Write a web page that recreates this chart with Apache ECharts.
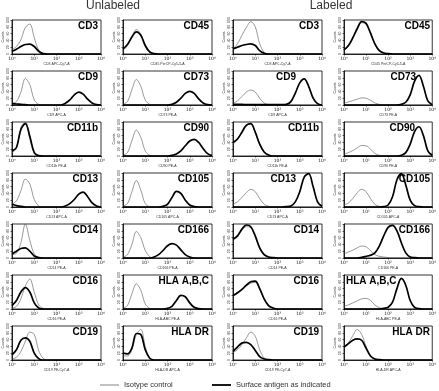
<!DOCTYPE html>
<html lang="en">
<head>
<meta charset="UTF-8">
<title>Surface markers</title>
<script src="https://cdn.jsdelivr.net/npm/echarts@6/dist/echarts.min.js"></script>
<style>
  html, body { margin: 0; padding: 0; background: #fff; }
</style>
</head>
<body>
<div id="main" style="width:439px;height:391px;"></div>
<script type="text/javascript">
// log10 of fluorescence at which each histogram value is read
var logX = [0, 0.2, 0.4, 0.6, 0.8, 1.0, 1.2, 1.4, 1.6, 1.8, 2.0, 2.2, 2.4, 2.6, 2.8, 3.0, 3.2, 3.4, 3.6, 3.8, 4.0];
var xTicks = ['10\u2070', '10\u00b9', '10\u00b2', '10\u00b3', '10\u2074'];

var leftMarkers = ['CD3', 'CD9', 'CD11b', 'CD13', 'CD14', 'CD16', 'CD19'];
var rightMarkers = ['CD45', 'CD73', 'CD90', 'CD105', 'CD166', 'HLA A,B,C', 'HLA DR'];
var leftAxisNames = ['CD3 APC-Cy7-A', 'CD9 APC-A', 'CD11b PE-A', 'CD13 APC-A', 'CD14 PE-A', 'CD16 PE-A', 'CD19 PE-Cy7-A'];
var rightAxisNames = ['CD45 PerCP-Cy5-5-A', 'CD73 PE-A', 'CD90 PE-A', 'CD105 APC-A', 'CD166 PE-A', 'HLA-ABC PE-A', 'HLA-DR APC-A'];

// % of panel height, unlabeled cells, left column
var unlabLeftIso = [
  [12, 22, 42, 78, 88, 48, 12, 2, 0, 0, 0, 0, 0, 0, 0, 0, 0, 0, 0, 0, 0],
  [5, 10, 38, 78, 60, 15, 2, 0, 0, 0, 0, 0, 0, 0, 0, 0, 0, 0, 0, 0, 0],
  [10, 22, 85, 100, 50, 8, 1, 0, 0, 0, 0, 0, 0, 0, 0, 0, 0, 0, 0, 0, 0],
  [8, 18, 48, 82, 68, 22, 3, 0, 0, 0, 0, 0, 0, 0, 0, 0, 0, 0, 0, 0, 0],
  [10, 14, 45, 100, 52, 12, 2, 0, 0, 0, 0, 0, 0, 0, 0, 0, 0, 0, 0, 0, 0],
  [2, 8, 30, 68, 88, 50, 12, 2, 0, 0, 0, 0, 0, 0, 0, 0, 0, 0, 0, 0, 0],
  [3, 8, 25, 55, 82, 75, 28, 5, 0, 0, 0, 0, 0, 0, 0, 0, 0, 0, 0, 0, 0]
];
var unlabLeftAg = [
  [8, 14, 22, 28, 29, 22, 8, 1, 0, 0, 0, 0, 0, 0, 0, 0, 0, 0, 0, 0, 0],
  [4, 3, 2, 1, 0, 0, 0, 0, 0, 0, 0, 0, 5, 15, 30, 38, 32, 17, 6, 1, 0],
  [15, 25, 78, 95, 58, 10, 1, 0, 0, 0, 0, 0, 0, 0, 0, 0, 0, 0, 0, 0, 0],
  [8, 4, 2, 0, 0, 0, 0, 0, 0, 0, 0, 0, 3, 10, 22, 38, 44, 30, 12, 3, 0],
  [12, 20, 28, 30, 20, 6, 1, 0, 0, 0, 0, 0, 0, 0, 0, 0, 0, 0, 0, 0, 0],
  [10, 25, 50, 63, 50, 18, 3, 0, 0, 0, 0, 0, 0, 0, 0, 0, 0, 0, 0, 0, 0],
  [15, 30, 58, 65, 55, 20, 4, 0, 0, 0, 0, 0, 0, 0, 0, 0, 0, 0, 0, 0, 0]
];
// unlabeled cells, right column
var unlabRightIso = [
  [10, 25, 52, 72, 58, 22, 4, 0, 0, 0, 0, 0, 0, 0, 0, 0, 0, 0, 0, 0, 0],
  [2, 10, 45, 75, 55, 15, 2, 0, 0, 0, 0, 0, 0, 0, 0, 0, 0, 0, 0, 0, 0],
  [2, 10, 45, 76, 55, 15, 2, 0, 0, 0, 0, 0, 0, 0, 0, 0, 0, 0, 0, 0, 0],
  [3, 10, 45, 78, 50, 10, 1, 0, 0, 0, 0, 0, 0, 0, 0, 0, 0, 0, 0, 0, 0],
  [2, 10, 40, 78, 60, 22, 4, 0, 0, 0, 0, 0, 0, 0, 0, 0, 0, 0, 0, 0, 0],
  [2, 10, 45, 74, 55, 15, 2, 0, 0, 0, 0, 0, 0, 0, 0, 0, 0, 0, 0, 0, 0],
  [12, 12, 30, 75, 90, 40, 6, 0, 0, 0, 0, 0, 0, 0, 0, 0, 0, 0, 0, 0, 0]
];
var unlabRightAg = [
  [15, 28, 50, 65, 55, 25, 6, 1, 0, 0, 0, 0, 0, 0, 0, 0, 0, 0, 0, 0, 0],
  [0, 0, 0, 0, 0, 0, 0, 0, 0, 0, 0, 2, 8, 20, 34, 40, 34, 18, 6, 1, 0],
  [0, 0, 0, 0, 0, 0, 0, 0, 0, 0, 0, 2, 6, 15, 30, 44, 49, 40, 22, 7, 1],
  [0, 0, 0, 0, 0, 0, 0, 0, 0, 2, 8, 28, 46, 40, 20, 6, 1, 0, 0, 0, 0],
  [0, 0, 0, 0, 0, 0, 0, 3, 10, 22, 36, 42, 38, 24, 10, 3, 0, 0, 0, 0, 0],
  [0, 0, 0, 0, 0, 0, 0, 0, 0, 0, 2, 8, 25, 40, 36, 18, 5, 1, 0, 0, 0],
  [20, 18, 35, 78, 75, 30, 5, 0, 0, 0, 0, 0, 0, 0, 0, 0, 0, 0, 0, 0, 0]
];
// labeled cells, left column
var labLeftIso = [
  [15, 30, 55, 78, 95, 80, 30, 5, 0, 0, 0, 0, 0, 0, 0, 0, 0, 0, 0, 0, 0],
  [5, 12, 25, 38, 44, 38, 20, 6, 1, 0, 0, 0, 0, 0, 0, 0, 0, 0, 0, 0, 0],
  [35, 48, 72, 92, 93, 68, 33, 10, 2, 0, 0, 0, 0, 0, 0, 0, 0, 0, 0, 0, 0],
  [8, 15, 28, 42, 52, 45, 25, 8, 2, 0, 0, 0, 0, 0, 0, 0, 0, 0, 0, 0, 0],
  [55, 62, 82, 92, 90, 62, 28, 8, 2, 0, 0, 0, 0, 0, 0, 0, 0, 0, 0, 0, 0],
  [38, 45, 55, 67, 76, 78, 58, 28, 8, 2, 0, 0, 0, 0, 0, 0, 0, 0, 0, 0, 0],
  [22, 30, 45, 65, 82, 70, 30, 6, 1, 0, 0, 0, 0, 0, 0, 0, 0, 0, 0, 0, 0]
];
var labLeftAg = [
  [15, 20, 25, 28, 30, 25, 10, 2, 0, 0, 0, 0, 0, 0, 0, 0, 0, 0, 0, 0, 0],
  [2, 2, 2, 1, 1, 1, 1, 1, 1, 1, 1, 1, 2, 10, 35, 65, 77, 55, 20, 4, 0],
  [40, 50, 70, 90, 95, 70, 35, 12, 3, 0, 0, 0, 0, 0, 0, 0, 0, 0, 0, 0, 0],
  [0, 0, 0, 0, 0, 0, 0, 0, 0, 0, 0, 0, 1, 3, 15, 45, 88, 98, 60, 15, 2],
  [55, 65, 85, 97, 92, 65, 30, 10, 3, 1, 0, 0, 0, 0, 0, 0, 0, 0, 0, 0, 0],
  [40, 48, 58, 70, 80, 82, 60, 30, 10, 3, 0, 0, 0, 0, 0, 0, 0, 0, 0, 0, 0],
  [25, 38, 50, 52, 45, 28, 10, 3, 1, 0, 0, 0, 0, 0, 0, 0, 0, 0, 0, 0, 0]
];
// labeled cells, right column
var labRightIso = [
  [10, 22, 45, 72, 92, 88, 60, 28, 9, 2, 0, 0, 0, 0, 0, 0, 0, 0, 0, 0, 0],
  [5, 9, 13, 17, 21, 20, 14, 6, 2, 0, 0, 0, 0, 0, 0, 0, 0, 0, 0, 0, 0],
  [5, 10, 16, 24, 31, 30, 20, 8, 2, 0, 0, 0, 0, 0, 0, 0, 0, 0, 0, 0, 0],
  [6, 12, 25, 42, 52, 45, 25, 8, 2, 0, 0, 0, 0, 0, 0, 0, 0, 0, 0, 0, 0],
  [12, 18, 23, 30, 35, 33, 22, 10, 5, 3, 1, 0, 0, 0, 0, 0, 0, 0, 0, 0, 0],
  [8, 12, 18, 24, 30, 31, 25, 12, 4, 1, 0, 0, 0, 0, 0, 0, 0, 0, 0, 0, 0],
  [38, 50, 72, 90, 75, 40, 12, 3, 1, 0, 0, 0, 0, 0, 0, 0, 0, 0, 0, 0, 0]
];
var labRightAg = [
  [12, 25, 48, 75, 95, 90, 62, 30, 10, 3, 1, 0, 0, 0, 0, 0, 0, 0, 0, 0, 0],
  [0, 0, 0, 0, 0, 0, 0, 0, 0, 0, 0, 0, 0, 2, 8, 30, 70, 87, 55, 12, 1],
  [0, 0, 0, 0, 0, 0, 0, 0, 0, 0, 0, 0, 0, 2, 10, 35, 72, 86, 60, 15, 2],
  [0, 0, 0, 0, 0, 0, 0, 0, 0, 1, 6, 30, 80, 98, 65, 20, 4, 1, 0, 0, 0],
  [0, 0, 0, 0, 2, 5, 8, 15, 35, 65, 90, 96, 80, 45, 15, 3, 1, 0, 0, 0, 0],
  [0, 0, 0, 0, 0, 0, 0, 0, 0, 2, 5, 20, 60, 90, 70, 25, 5, 1, 0, 0, 0],
  [38, 48, 58, 62, 58, 35, 12, 3, 1, 0, 0, 0, 0, 0, 0, 0, 0, 0, 0, 0, 0]
];

var columns = [
  { names: leftMarkers, axisNames: leftAxisNames, iso: unlabLeftIso, ag: unlabLeftAg },
  { names: rightMarkers, axisNames: rightAxisNames, iso: unlabRightIso, ag: unlabRightAg },
  { names: leftMarkers, axisNames: leftAxisNames, iso: labLeftIso, ag: labLeftAg },
  { names: rightMarkers, axisNames: rightAxisNames, iso: labRightIso, ag: labRightAg }
];

// layout
var colLefts = [12, 123, 233, 344];
var rowTops = [20, 71, 122, 173, 224, 275, 326];
var plotW = 89, plotH = 34;
// label right inset per panel (col,row) where it is not at the corner
var labelInset = { '2,1': 26, '2,3': 26, '3,1': 17, '3,2': 18 };
var labelLeft = { '3,5': true };

var chart = echarts.init(document.getElementById('main'));
var grids = [], xAxes = [], yAxes = [], series = [], graphics = [];

function pairs(vals) {
  return vals.map(function (v, i) { return [logX[i], v]; });
}

columns.forEach(function (col, c) {
  col.names.forEach(function (name, r) {
    var idx = grids.length;
    grids.push({
      left: colLefts[c], top: rowTops[r], width: plotW, height: plotH,
      show: true, borderColor: '#000', borderWidth: 0.8, backgroundColor: 'transparent'
    });
    xAxes.push({
      gridIndex: idx, type: 'value', min: 0, max: 4, interval: 1,
      name: col.axisNames[r], nameLocation: 'middle', nameGap: 8,
      nameTextStyle: { fontSize: 3.5, color: '#333', fontFamily: 'Liberation Sans' },
      axisLine: { lineStyle: { color: '#000', width: 0.8 } },
      axisTick: { length: 1.5, lineStyle: { color: '#000', width: 0.6 } },
      axisLabel: {
        fontSize: 4.5, margin: 2, color: '#222', fontFamily: 'DejaVu Sans',
        formatter: function (v) { return xTicks[Math.round(v)]; }
      },
      splitLine: { show: false }
    });
    yAxes.push({
      gridIndex: idx, type: 'value', min: 0, max: 100, interval: 20,
      name: 'Counts', nameLocation: 'middle', nameGap: 7, nameRotate: 90,
      nameTextStyle: { fontSize: 3.5, color: '#333', fontFamily: 'Liberation Sans' },
      axisLine: { show: true, lineStyle: { color: '#000', width: 0.8 } },
      axisTick: { show: true, length: 1.5, lineStyle: { color: '#000', width: 0.6 } },
      axisLabel: { fontSize: 3.5, margin: 1.5, rotate: 90, color: '#333', fontFamily: 'Liberation Sans' },
      splitLine: { show: false }
    });
    series.push({
      type: 'line', xAxisIndex: idx, yAxisIndex: idx, name: 'Isotype control',
      data: pairs(col.iso[r]), smooth: 0.35, showSymbol: false, silent: true,
      lineStyle: { color: '#555', width: 0.6 }, z: 2
    });
    series.push({
      type: 'line', xAxisIndex: idx, yAxisIndex: idx, name: 'Surface antigen as indicated',
      data: pairs(col.ag[r]), smooth: 0.35, showSymbol: false, silent: true,
      lineStyle: { color: '#000', width: 1.7 }, z: 3
    });
    var key = c + ',' + r;
    var right = colLefts[c] + plotW - (labelInset[key] || 3);
    graphics.push({
      type: 'text', z: 10,
      x: labelLeft[key] ? colLefts[c] + 2 : right,
      y: rowTops[r] + 1.5,
      style: {
        text: name, fill: '#000', font: 'bold 10px "Liberation Sans"',
        align: labelLeft[key] ? 'left' : 'right', verticalAlign: 'top'
      }
    });
  });
});

// column titles
graphics.push({ type: 'text', x: 113, y: 6, style: { text: 'Unlabeled', fill: '#333', font: '12px "Liberation Sans"', align: 'center', verticalAlign: 'middle' } });
graphics.push({ type: 'text', x: 331, y: 6, style: { text: 'Labeled', fill: '#333', font: '12px "Liberation Sans"', align: 'center', verticalAlign: 'middle' } });

// legend
graphics.push({ type: 'line', shape: { x1: 100, y1: 385, x2: 119, y2: 385 }, style: { stroke: '#666', lineWidth: 0.8 } });
graphics.push({ type: 'text', x: 124, y: 385, style: { text: 'Isotype control', fill: '#333', font: '7.5px "Liberation Sans"', verticalAlign: 'middle' } });
graphics.push({ type: 'line', shape: { x1: 212, y1: 385, x2: 231, y2: 385 }, style: { stroke: '#000', lineWidth: 1.8 } });
graphics.push({ type: 'text', x: 236, y: 385, style: { text: 'Surface antigen as indicated', fill: '#333', font: '7.5px "Liberation Sans"', verticalAlign: 'middle' } });

var option = {
  animation: false,
  backgroundColor: '#fff',
  grid: grids,
  xAxis: xAxes,
  yAxis: yAxes,
  series: series,
  graphic: graphics
};

option && chart.setOption(option);
</script>
</body>
</html>
